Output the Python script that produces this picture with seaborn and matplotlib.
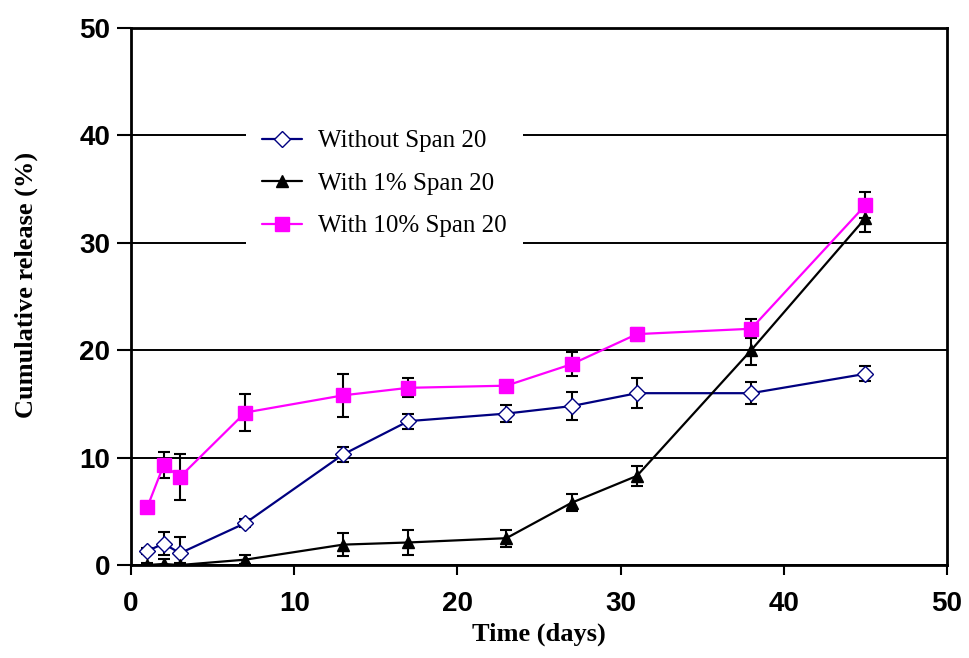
import numpy as np
import pandas as pd
import matplotlib
matplotlib.use("Agg")
import matplotlib.pyplot as plt
import seaborn as sns

# release data (mean and sd, %)
days = [1, 2, 3, 7, 13, 17, 23, 27, 31, 38, 45]

without_span = [1.3, 2.0, 1.1, 3.9, 10.3, 13.4, 14.1, 14.8, 16.0, 16.0, 17.8]
without_err = [0.3, 1.1, 1.5, 0.4, 0.7, 0.7, 0.8, 1.3, 1.4, 1.0, 0.7]

span_1 = [0.0, 0.1, 0.0, 0.5, 1.9, 2.1, 2.5, 5.8, 8.3, 20.0, 32.3]
span_1_err = [0.2, 0.5, 0.2, 0.4, 1.1, 1.2, 0.8, 0.8, 0.9, 1.4, 1.3]

span_10 = [5.4, 9.3, 8.2, 14.2, 15.8, 16.5, 16.7, 18.7, 21.5, 22.0, 33.5]
span_10_err = [0.0, 1.2, 2.1, 1.7, 2.0, 0.9, 0.3, 1.1, 0.6, 0.9, 1.2]

labels = ["Without Span 20", "With 1% Span 20", "With 10% Span 20"]

sns.set_style("white")
plt.rcParams["font.family"] = ["Liberation Sans", "DejaVu Sans"]
plt.rcParams["text.color"] = "black"
plt.rcParams["axes.labelcolor"] = "black"

fig = plt.figure(figsize=(9.69, 6.58), dpi=100)
ax = fig.add_axes([0.1352, 0.1413, 0.8421, 0.8161])

series = [
    (without_span, without_err, labels[0], dict(color="#000080", marker="D", markersize=8,
                                                markerfacecolor="white", markeredgecolor="#000080",
                                                markeredgewidth=1.0)),
    (span_1, span_1_err, labels[1], dict(color="black", marker="^", markersize=9,
                                         markerfacecolor="black", markeredgecolor="black",
                                         markeredgewidth=1.0)),
    (span_10, span_10_err, labels[2], dict(color="#FF00FF", marker="s", markersize=10.5,
                                           markerfacecolor="#FF00FF", markeredgecolor="#FF00FF",
                                           markeredgewidth=1.0)),
]

for vals, errs, lab, style in series:
    df = pd.DataFrame({"Time": days, "Release": vals})
    ax.errorbar(days, vals, yerr=errs, fmt="none", ecolor="black", elinewidth=1.5,
                capsize=4.5, capthick=1.5, zorder=2)
    sns.lineplot(data=df, x="Time", y="Release", ax=ax, label=lab, linewidth=1.6,
                 zorder=3, **style)

ax.set_xlim(0, 50)
ax.set_ylim(0, 50)
ax.set_xticks([0, 10, 20, 30, 40, 50])
ax.set_yticks([0, 10, 20, 30, 40, 50])

ax.yaxis.grid(True, color="black", linewidth=1.4)
ax.xaxis.grid(False)
ax.set_axisbelow(True)
for sp in ax.spines.values():
    sp.set_visible(True)
    sp.set_color("black")
    sp.set_linewidth(2)

ax.tick_params(axis="x", direction="out", length=7, width=1.5, pad=12, bottom=True,
               labelsize=20, colors="black")
ax.tick_params(axis="y", direction="out", length=10, width=1.5, pad=5, left=True,
               labelsize=20, colors="black")
for t in ax.get_xticklabels() + ax.get_yticklabels():
    t.set_fontweight("bold")

ax.set_xlabel("Time (days)", family=["Liberation Serif", "DejaVu Serif"], fontsize=19,
              fontweight="bold", labelpad=4, color="black")
ax.set_ylabel("Cumulative release (%)", family=["Liberation Serif", "DejaVu Serif"],
              fontsize=19, fontweight="bold", color="black")
ax.yaxis.set_label_coords(-0.1145, 0.521)

leg = ax.legend(loc="upper left", bbox_to_anchor=(0.125, 0.864), frameon=True,
                prop={"family": ["Liberation Serif", "DejaVu Serif"], "size": 18},
                handlelength=1.6, handletextpad=0.65, labelspacing=0.8,
                borderpad=0.65, fancybox=False, labelcolor="black")
leg.get_frame().set_facecolor("white")
leg.get_frame().set_edgecolor("none")
leg.get_frame().set_alpha(1)

fig.savefig("out.png", dpi=100)
